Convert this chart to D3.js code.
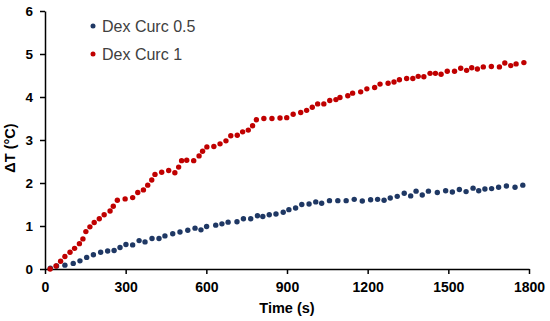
<!DOCTYPE html>
<html>
<head>
<meta charset="utf-8">
<script src="https://cdn.jsdelivr.net/npm/d3@7"></script>
<style>
  body { margin: 0; background: #fff; }
  svg { display: block; font-family: "Liberation Sans", Arial, sans-serif; }
</style>
</head>
<body>
<div class="chart"></div>
<script>
// time (s) and delta T values
var timeLow = [20, 43, 74, 105, 130, 155, 180, 207, 233, 257, 279, 301, 326, 350, 372, 398, 424, 446, 475, 502,
  531, 558, 580, 601, 635, 658, 681, 714, 738, 765, 790, 810, 834, 859, 886, 907, 932, 955, 982, 1007,
  1029, 1058, 1089, 1120, 1150, 1180, 1211, 1237, 1261, 1284, 1310, 1336, 1360, 1380, 1403, 1426, 1459, 1490, 1515, 1541,
  1566, 1592, 1613, 1636, 1661, 1687, 1716, 1748, 1777];
var valLow = [0.02, 0.07, 0.09, 0.13, 0.19, 0.27, 0.33, 0.39, 0.42, 0.43, 0.50, 0.57, 0.56, 0.66, 0.63, 0.71, 0.71, 0.77, 0.82, 0.86,
  0.90, 0.95, 0.91, 0.99, 1.02, 1.05, 1.09, 1.10, 1.17, 1.17, 1.24, 1.22, 1.26, 1.28, 1.32, 1.38, 1.42, 1.50, 1.51, 1.56,
  1.53, 1.59, 1.59, 1.59, 1.62, 1.58, 1.61, 1.62, 1.60, 1.65, 1.69, 1.76, 1.70, 1.81, 1.72, 1.81, 1.78, 1.82, 1.79, 1.85,
  1.80, 1.88, 1.82, 1.86, 1.87, 1.90, 1.93, 1.90, 1.95];

var timeHigh = [19, 41, 58, 74, 93, 110, 128, 141, 152, 167, 183, 202, 220, 242, 254, 269, 298, 326, 345, 366,
  382, 397, 409, 434, 460, 483, 497, 508, 527, 553, 573, 586, 602, 628, 651, 673, 691, 715, 735, 756,
  772, 786, 814, 844, 874, 899, 923, 951, 973, 994, 1014, 1037, 1059, 1082, 1097, 1126, 1144, 1174, 1197, 1226,
  1246, 1276, 1298, 1318, 1345, 1368, 1388, 1409, 1432, 1452, 1473, 1496, 1523, 1546, 1568, 1587, 1608, 1630, 1660, 1690,
  1710, 1732, 1752, 1781];
var valHigh = [0.00, 0.07, 0.18, 0.29, 0.39, 0.48, 0.59, 0.70, 0.87, 0.98, 1.08, 1.17, 1.26, 1.35, 1.46, 1.60, 1.63, 1.66, 1.78, 1.84,
  1.95, 2.07, 2.20, 2.25, 2.29, 2.24, 2.37, 2.52, 2.53, 2.52, 2.63, 2.74, 2.84, 2.85, 2.91, 2.98, 3.10, 3.11, 3.19, 3.23,
  3.33, 3.47, 3.50, 3.50, 3.51, 3.52, 3.60, 3.64, 3.69, 3.76, 3.84, 3.84, 3.92, 3.94, 3.99, 4.03, 4.09, 4.12, 4.19, 4.22,
  4.30, 4.32, 4.35, 4.40, 4.43, 4.43, 4.48, 4.47, 4.55, 4.55, 4.53, 4.60, 4.60, 4.67, 4.62, 4.68, 4.65, 4.70, 4.71, 4.70,
  4.79, 4.73, 4.77, 4.80];

var seriesNames = ["Dex Curc 0.5", "Dex Curc 1"];
var xTicks = [0, 300, 600, 900, 1200, 1500, 1800];
var yTicks = [0, 1, 2, 3, 4, 5, 6];

var svgWidth = 550;
var svgHeight = 321;
var margin = { top: 11, right: 21, bottom: 52, left: 45 };
var width = svgWidth - margin.left - margin.right;
var height = svgHeight - margin.top - margin.bottom;

var colors = ["#1f3864", "#c00000"];

var svg = d3.select(".chart")
  .append("svg")
  .attr("width", svgWidth)
  .attr("height", svgHeight);

var chart = svg.append("g")
  .attr("transform", "translate(" + margin.left + "," + margin.top + ")");

var x = d3.scaleLinear().domain([0, 1800]).range([0, width]);
var y = d3.scaleLinear().domain([0, 6]).range([height, 0]);

// axes
var xAxis = chart.append("g")
  .attr("transform", "translate(0," + height + ")")
  .call(d3.axisBottom(x).tickValues(xTicks).tickFormat(d3.format("d"))
    .tickSize(5).tickSizeOuter(0).tickPadding(8));
var yAxis = chart.append("g")
  .call(d3.axisLeft(y).tickValues(yTicks).tickFormat(d3.format("d"))
    .tickSize(5).tickSizeOuter(0).tickPadding(7));

[xAxis, yAxis].forEach(function(ax) {
  ax.select(".domain").attr("stroke", "#000").attr("stroke-width", 1.5);
  ax.selectAll(".tick line").attr("stroke", "#000").attr("stroke-width", 1.5);
  ax.selectAll(".tick text")
    .attr("fill", "#000")
    .attr("font-family", "Liberation Sans, Arial, sans-serif")
    .attr("font-weight", "bold");
});
xAxis.selectAll(".tick text").attr("font-size", 14);
yAxis.selectAll(".tick text").attr("font-size", 13.5);

// dots
var series = [
  { name: seriesNames[0], t: timeLow, v: valLow, color: colors[0] },
  { name: seriesNames[1], t: timeHigh, v: valHigh, color: colors[1] }
];

series.forEach(function(s) {
  var pts = s.t.map(function(t, i) { return { t: t, v: s.v[i] }; });
  chart.append("g").selectAll("circle")
    .data(pts)
    .enter()
    .append("circle")
    .attr("cx", function(d) { return x(d.t); })
    .attr("cy", function(d) { return y(d.v); })
    .attr("r", 2.7)
    .attr("fill", s.color);
});

// axis titles
svg.append("text")
  .attr("x", margin.left + width / 2)
  .attr("y", 313)
  .attr("text-anchor", "middle")
  .attr("font-size", 14.5)
  .attr("font-weight", "bold")
  .text("Time (s)");

svg.append("text")
  .attr("transform", "translate(15," + 148 + ") rotate(-90)")
  .attr("text-anchor", "middle")
  .attr("font-size", 14.5)
  .attr("font-weight", "bold")
  .text("\u0394T (\u00B0C)");

// legend
var legend = svg.append("g");
series.forEach(function(s, i) {
  var ly = 26 + i * 28;
  legend.append("circle")
    .attr("cx", 93)
    .attr("cy", ly)
    .attr("r", 2.5)
    .attr("fill", s.color);
  legend.append("text")
    .attr("x", 102)
    .attr("y", ly + 6)
    .attr("font-size", 16)
    .attr("fill", "#404040")
    .text(s.name);
});
</script>
</body>
</html>
